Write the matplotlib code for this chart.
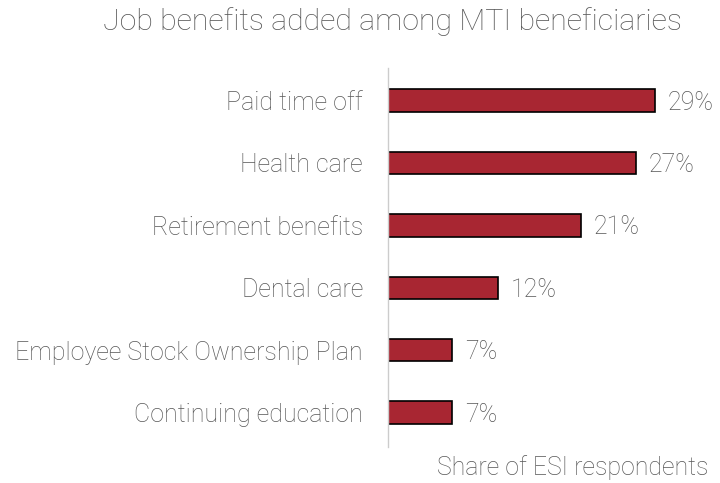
import matplotlib
matplotlib.use("Agg")
import matplotlib.pyplot as plt

categories = [
    "Paid time off",
    "Health care",
    "Retirement benefits",
    "Dental care",
    "Employee Stock Ownership Plan",
    "Continuing education",
]
values = [29, 27, 21, 12, 7, 7]
value_labels = ["29%", "27%", "21%", "12%", "7%", "7%"]

title = "Job benefits added among MTI beneficiaries"
xlabel = "Share of ESI respondents"

plt.rcParams["font.family"] = ["Roboto", "DejaVu Sans"]
text_color = "#575757"
bar_color = "#a82632"

fig = plt.figure(figsize=(7.2, 4.83), dpi=100)
ax = fig.add_axes([388 / 720, 1 - 447 / 483, (710 - 388) / 720, (447 - 68) / 483])

y = list(range(len(categories)))
ax.barh(y, values, height=0.36, color=bar_color, edgecolor="black", linewidth=1.2)
ax.set_ylim(len(categories) - 0.45, -0.52)
ax.set_xlim(0, 322 / 9.2)

for yi, v, lab in zip(y, values, value_labels):
    ax.annotate(lab, (v, yi), xytext=(9, -1.5), textcoords="offset points",
                ha="left", va="center", fontsize=18, color=text_color,
                fontweight="light")

ax.set_yticks(y)
ax.set_yticklabels(categories, fontsize=18, color=text_color, fontweight="light")
ax.tick_params(axis="y", length=0, pad=18)
ax.set_xticks([])

for s in ["top", "right", "bottom"]:
    ax.spines[s].set_visible(False)
ax.spines["left"].set_color("#cccccc")
ax.spines["left"].set_linewidth(1.0)

fig.text(392 / 720, 1 - 22 / 483, title, ha="center", va="center",
         fontsize=21.8, color=text_color, fontweight="light")
fig.text(708 / 720, 1 - 468 / 483, xlabel, ha="right", va="center",
         fontsize=17.9, color=text_color, fontweight="light")

fig.savefig("out.png", dpi=100, facecolor="white")
